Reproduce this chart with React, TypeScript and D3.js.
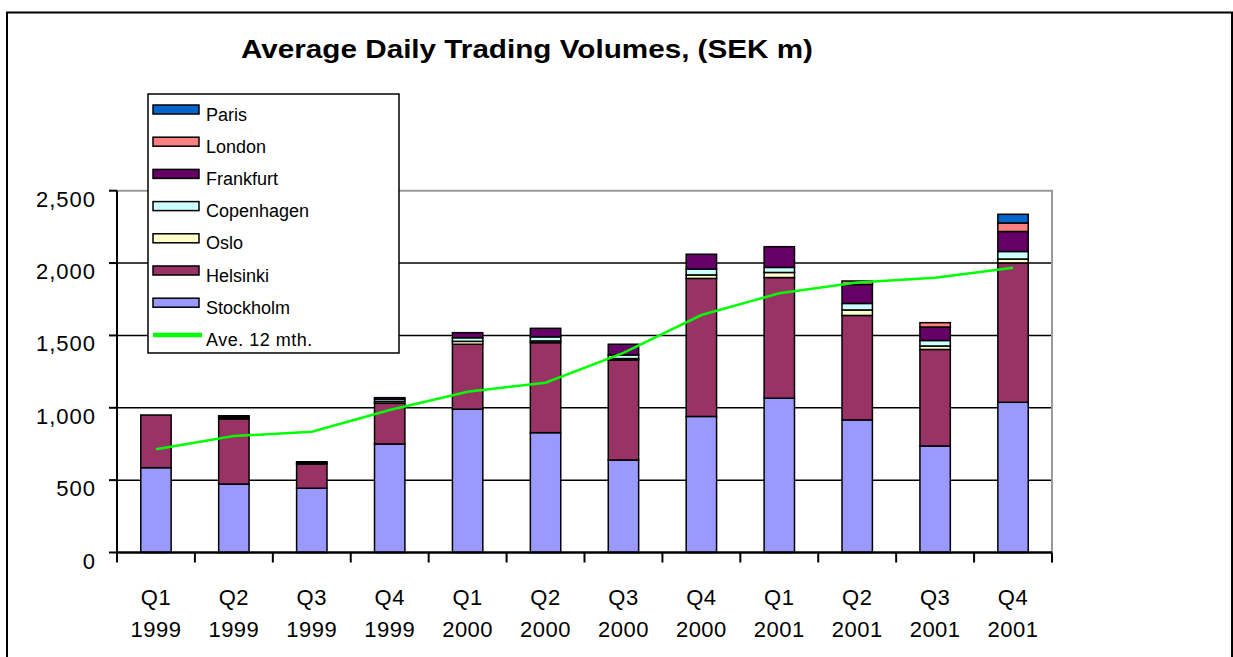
import React, { useEffect, useRef } from 'react';
import * as d3 from 'd3';

const quarters = ['Q1', 'Q2', 'Q3', 'Q4', 'Q1', 'Q2', 'Q3', 'Q4', 'Q1', 'Q2', 'Q3', 'Q4'];
const years = ['1999', '1999', '1999', '1999', '2000', '2000', '2000', '2000', '2001', '2001', '2001', '2001'];

// SEK m
const stockholm = [586, 473, 444, 750, 990, 828, 639, 940, 1066, 916, 736, 1038];
const helsinki = [364, 450, 166, 281, 449, 622, 691, 954, 834, 722, 667, 963];
const oslo = [0, 8, 8, 12, 20, 12, 10, 24, 35, 38, 24, 27];
const copenhagen = [0, 8, 9, 15, 25, 28, 25, 41, 35, 45, 38, 52];
const frankfurt = [0, 6, 0, 12, 35, 59, 74, 102, 143, 131, 93, 138];
const london = [0, 0, 0, 0, 0, 0, 0, 0, 0, 24, 30, 59];
const paris = [0, 0, 0, 0, 0, 0, 0, 0, 0, 0, 0, 60];
const ave12 = [713, 805, 835, 985, 1111, 1173, 1379, 1641, 1791, 1865, 1899, 1968];

const yTicks = [0, 500, 1000, 1500, 2000, 2500];

// bottom to top
const series = [
  { name: 'Stockholm', values: stockholm, color: '#9999ff' },
  { name: 'Helsinki', values: helsinki, color: '#993366' },
  { name: 'Oslo', values: oslo, color: '#ffffcc' },
  { name: 'Copenhagen', values: copenhagen, color: '#ccffff' },
  { name: 'Frankfurt', values: frankfurt, color: '#660066' },
  { name: 'London', values: london, color: '#ff8080' },
  { name: 'Paris', values: paris, color: '#0066cc' },
];

const FONT = '"Liberation Sans", Arial, sans-serif';

export default function App() {
  const chartRef = useRef<SVGSVGElement>(null);

  useEffect(() => {
    const width = 1233;
    const height = 657;
    const plot = { left: 117, right: 1052, top: 190.7, bottom: 552.5 };

    const svg = d3.select(chartRef.current);
    svg.selectAll('*').remove();
    svg.attr('width', width).attr('height', height);

    // outer frame
    svg.append('rect')
      .attr('x', 7).attr('y', 12.5)
      .attr('width', 1225).attr('height', 700)
      .attr('fill', 'white')
      .attr('stroke', 'black')
      .attr('stroke-width', 2);

    svg.append('text')
      .attr('x', 241).attr('y', 58)
      .attr('textLength', 572)
      .attr('lengthAdjust', 'spacingAndGlyphs')
      .style('font-family', FONT)
      .style('font-weight', 'bold')
      .style('font-size', '26px')
      .text('Average Daily Trading Volumes, (SEK m)');

    const xScale = d3.scaleBand<number>()
      .domain(d3.range(quarters.length))
      .range([plot.left, plot.right])
      .paddingInner(0.61)
      .paddingOuter(0.305);

    const yScale = d3.scaleLinear()
      .domain([0, 2500])
      .range([plot.bottom, plot.top]);

    const step = (plot.right - plot.left) / quarters.length;

    // gridlines
    svg.append('g')
      .selectAll('line')
      .data(yTicks.filter(t => t > 0 && t < 2500))
      .enter()
      .append('line')
      .attr('x1', plot.left).attr('x2', plot.right)
      .attr('y1', d => yScale(d)).attr('y2', d => yScale(d))
      .attr('stroke', 'black')
      .attr('stroke-width', 1.5);

    // plot area border (top, right)
    svg.append('path')
      .attr('d', `M${plot.left},${plot.top}H${plot.right}V${plot.bottom}`)
      .attr('fill', 'none')
      .attr('stroke', '#999')
      .attr('stroke-width', 2);

    // stacked bars
    const stack = d3.stack<number>()
      .keys(series.map((_, i) => String(i)))
      .value((d, key) => series[+key].values[d]);
    const stacked = stack(d3.range(quarters.length));

    stacked.forEach((layer, si) => {
      svg.append('g')
        .selectAll('rect')
        .data(layer.map((seg, i) => ({ seg, i })).filter(d => d.seg[1] - d.seg[0] > 0))
        .enter()
        .append('rect')
        .attr('x', d => xScale(d.i)!)
        .attr('y', d => yScale(d.seg[1]))
        .attr('width', xScale.bandwidth())
        .attr('height', d => yScale(d.seg[0]) - yScale(d.seg[1]))
        .attr('fill', series[si].color)
        .attr('stroke', 'black')
        .attr('stroke-width', 1.5);
    });

    // 12 month average line
    const line = d3.line<number>()
      .x((_, i) => xScale(i)! + xScale.bandwidth() / 2)
      .y(d => yScale(d));

    svg.append('path')
      .datum(ave12)
      .attr('d', line)
      .attr('fill', 'none')
      .attr('stroke', '#00ff00')
      .attr('stroke-width', 2.5);

    // y axis
    svg.append('line')
      .attr('x1', plot.left).attr('x2', plot.left)
      .attr('y1', plot.top).attr('y2', plot.bottom)
      .attr('stroke', 'black').attr('stroke-width', 2);

    const yAxis = svg.append('g');
    yAxis.selectAll('line')
      .data(yTicks)
      .enter()
      .append('line')
      .attr('x1', plot.left - 8).attr('x2', plot.left)
      .attr('y1', d => yScale(d)).attr('y2', d => yScale(d))
      .attr('stroke', 'black').attr('stroke-width', 2);
    yAxis.selectAll('text')
      .data(yTicks)
      .enter()
      .append('text')
      .attr('x', 96)
      .attr('y', d => yScale(d) + 16)
      .attr('text-anchor', 'end')
      .style('font-family', FONT)
      .style('font-size', '22px')
      .style('letter-spacing', '1px')
      .text(d => d3.format(',')(d));

    // x axis
    svg.append('line')
      .attr('x1', plot.left).attr('x2', plot.right)
      .attr('y1', plot.bottom).attr('y2', plot.bottom)
      .attr('stroke', 'black').attr('stroke-width', 2.5);

    const xAxis = svg.append('g');
    xAxis.selectAll('line')
      .data(d3.range(quarters.length + 1))
      .enter()
      .append('line')
      .attr('x1', d => plot.left + d * step).attr('x2', d => plot.left + d * step)
      .attr('y1', plot.bottom).attr('y2', plot.bottom + 10)
      .attr('stroke', 'black').attr('stroke-width', 2);

    const xLabels = xAxis.selectAll('text')
      .data(d3.range(quarters.length))
      .enter()
      .append('text')
      .attr('text-anchor', 'middle')
      .style('font-family', FONT)
      .style('font-size', '22px')
      .style('letter-spacing', '0.5px');
    xLabels.append('tspan')
      .attr('x', d => xScale(d)! + xScale.bandwidth() / 2)
      .attr('y', 605)
      .text(d => quarters[d]);
    xLabels.append('tspan')
      .attr('x', d => xScale(d)! + xScale.bandwidth() / 2)
      .attr('y', 637)
      .text(d => years[d]);

    // legend
    const legend = svg.append('g');
    legend.append('rect')
      .attr('x', 148).attr('y', 94)
      .attr('width', 251).attr('height', 259)
      .attr('fill', 'white')
      .attr('stroke', 'black')
      .attr('stroke-width', 1.5);

    const legendItems = [...series].reverse();
    const rowY = (i: number) => 109.5 + i * 32.2;

    legendItems.forEach((s, i) => {
      legend.append('rect')
        .attr('x', 153).attr('y', rowY(i) - 4.5)
        .attr('width', 46).attr('height', 9)
        .attr('fill', s.color)
        .attr('stroke', 'black')
        .attr('stroke-width', 1.5);
      legend.append('text')
        .attr('x', 206).attr('y', rowY(i) + 11)
        .style('font-family', FONT)
        .style('font-size', '18px')
        .text(s.name);
    });

    const aveY = rowY(legendItems.length);
    legend.append('line')
      .attr('x1', 153).attr('x2', 202)
      .attr('y1', aveY).attr('y2', aveY)
      .attr('stroke', '#00ff00')
      .attr('stroke-width', 4.5);
    legend.append('text')
      .attr('x', 206).attr('y', aveY + 11)
      .style('font-family', FONT)
      .style('font-size', '18px')
      .style('letter-spacing', '0.5px')
      .text('Ave. 12 mth.');
  }, []);

  return (
    <div style={{ position: 'absolute', left: 0, top: 0 }}>
      <svg ref={chartRef} />
    </div>
  );
}
